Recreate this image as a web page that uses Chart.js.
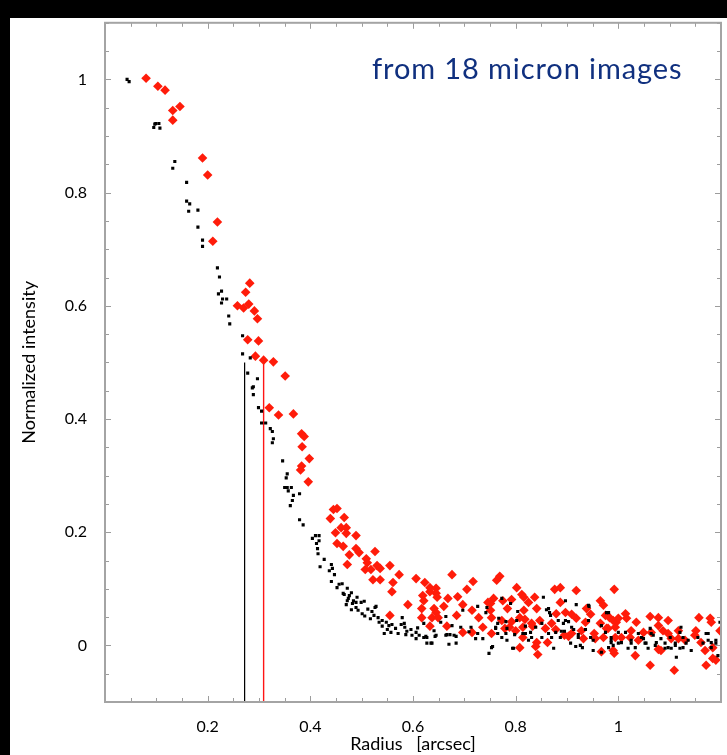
<!DOCTYPE html>
<html>
<head>
<meta charset="utf-8">
<title>Radial profile</title>
<script src="https://cdn.jsdelivr.net/npm/chart.js@4.4.1/dist/chart.umd.min.js"></script>
<style>
  html, body { margin: 0; padding: 0; background: #000; }
  #panel { position: absolute; left: 10px; top: 18px; width: 717px; height: 737px; background: #fff; }
  #note { position: absolute; left: 362px; top: 35px; font: 29px Lato, sans-serif; line-height: 29px; letter-spacing: 0.9px; color: #10307f; white-space: nowrap; }
</style>
</head>
<body>
<div id="panel">
  <canvas id="profile" width="717" height="737"></canvas>
  <div id="note">from 18 micron images</div>
</div>
<script>
// radial profile, [radius arcsec, normalized intensity]
const blackPoints = [
  [0.043, 1.0], [0.047, 0.996], [0.097, 0.921], [0.099, 0.922], [0.105, 0.922], [0.107, 0.914], [0.095, 0.915],
  [0.136, 0.855], [0.132, 0.843], [0.159, 0.818], [0.159, 0.785], [0.165, 0.780], [0.163, 0.767], [0.181, 0.769],
  [0.181, 0.739], [0.190, 0.716], [0.190, 0.705], [0.219, 0.667], [0.223, 0.651], [0.227, 0.626], [0.221, 0.621],
  [0.229, 0.612], [0.237, 0.612], [0.227, 0.605], [0.241, 0.582], [0.243, 0.568], [0.268, 0.547], [0.268, 0.515],
  [0.283, 0.508], [0.278, 0.481], [0.297, 0.471], [0.289, 0.457], [0.287, 0.455], [0.289, 0.443], [0.299, 0.420],
  [0.305, 0.414], [0.305, 0.393], [0.313, 0.393], [0.322, 0.383], [0.326, 0.378], [0.328, 0.365], [0.326, 0.358],
  [0.346, 0.326], [0.355, 0.303], [0.353, 0.296], [0.350, 0.279], [0.355, 0.279], [0.357, 0.273], [0.363, 0.279],
  [0.379, 0.268], [0.367, 0.265], [0.365, 0.256], [0.361, 0.247], [0.379, 0.222], [0.386, 0.213], [0.404, 0.189],
  [0.410, 0.194], [0.417, 0.194], [0.412, 0.180], [0.417, 0.185], [0.414, 0.171], [0.415, 0.162], [0.427, 0.152],
  [0.419, 0.139], [0.441, 0.143], [0.443, 0.136], [0.437, 0.132], [0.447, 0.125], [0.441, 0.113], [0.456, 0.108],
  [0.452, 0.102], [0.472, 0.101], [0.464, 0.092], [0.480, 0.093], [0.474, 0.083], [0.484, 0.079], [0.491, 0.085],
  [0.489, 0.076], [0.499, 0.076], [0.505, 0.078], [0.526, 0.067], [0.480, 0.063], [0.462, 0.109], [0.466, 0.090],
  [0.476, 0.088], [0.472, 0.079], [0.482, 0.074], [0.489, 0.067], [0.501, 0.056], [0.506, 0.052], [0.520, 0.060],
  [0.528, 0.069], [0.524, 0.053], [0.532, 0.049], [0.540, 0.044], [0.534, 0.041], [0.548, 0.041], [0.540, 0.034],
  [0.553, 0.035], [0.559, 0.037], [0.544, 0.021], [0.557, 0.023], [0.579, 0.049], [0.577, 0.037], [0.584, 0.032],
  [0.588, 0.025], [0.586, 0.019], [0.596, 0.028], [0.606, 0.023], [0.612, 0.018], [0.606, 0.012], [0.621, 0.014],
  [0.627, 0.004], [0.625, 0.016], [0.637, 0.004], [0.645, 0.018], [0.641, 0.026], [0.654, 0.041], [0.664, 0.051],
  [0.666, 0.019], [0.672, 0.019], [0.676, 0.035], [0.680, 0.018], [0.684, 0.004], [0.670, 0.002], [0.693, 0.032],
  [0.697, 0.062], [0.713, 0.032], [0.722, 0.012], [0.726, 0.021], [0.736, 0.012], [0.744, 0.067], [0.748, -0.014],
  [0.755, -0.002], [0.761, 0.032], [0.765, 0.039], [0.765, 0.021], [0.583, 0.039], [0.598, 0.018], [0.609, 0.031],
  [0.621, 0.039], [0.627, 0.014], [0.635, 0.004], [0.643, 0.016], [0.664, 0.018], [0.684, 0.016], [0.709, 0.024],
  [0.726, 0.069], [0.742, 0.058], [0.767, 0.048], [0.773, 0.083], [0.783, 0.030], [0.796, -0.005], [0.802, 0.044],
  [0.814, 0.021], [0.831, 0.014], [0.839, 0.032], [0.854, 0.085], [0.864, 0.065], [0.868, 0.053], [0.878, 0.023],
  [0.887, 0.014], [0.897, 0.044], [0.909, 0.032], [0.922, 0.014], [0.926, 0.0], [0.936, 0.028], [0.943, 0.069],
  [0.951, 0.009], [0.967, -0.012], [0.975, 0.023], [0.986, 0.014], [1.0, 0.004], [1.014, 0.023], [1.025, 0.009],
  [1.033, -0.004], [1.045, 0.014], [1.054, 0.004], [1.064, 0.021], [1.072, 0.0], [1.083, 0.012], [1.091, -0.005],
  [1.101, 0.014], [1.111, 0.004], [1.120, 0.023], [1.126, -0.004], [1.136, 0.009], [1.142, -0.009], [1.155, 0.014],
  [1.165, 0.004], [1.175, 0.021], [1.181, -0.004], [1.190, 0.009], [1.198, 0.041], [0.860, 0.063], [0.866, 0.058],
  [0.918, 0.072], [0.942, 0.071], [0.897, 0.079], [0.977, 0.058], [0.790, 0.074], [0.804, 0.060], [0.761, 0.030],
  [0.773, 0.014], [0.781, 0.021], [0.798, 0.019], [0.783, 0.009], [0.819, 0.021], [0.829, 0.023], [0.851, 0.014],
  [0.864, 0.021], [0.870, 0.014], [0.883, 0.044], [0.893, 0.039], [0.889, 0.025], [0.895, 0.025], [0.913, 0.028],
  [0.922, 0.019], [0.907, 0.004], [0.917, -0.002], [0.930, -0.004], [0.946, 0.014], [0.951, -0.009], [0.753, -0.004],
  [0.794, -0.005], [0.825, 0.009], [0.874, -0.005], [0.903, 0.042], [0.942, 0.044], [0.986, 0.005], [0.990, 0.0],
  [0.981, -0.004], [0.781, 0.042], [0.819, 0.034], [0.851, 0.039], [0.967, 0.035], [0.981, 0.058], [1.0, 0.023],
  [0.986, 0.009], [1.006, 0.005], [1.019, -0.005], [1.039, 0.021], [1.049, 0.012], [1.058, -0.005], [1.068, 0.018],
  [1.091, 0.004], [1.097, -0.004], [1.111, 0.0], [1.120, -0.005], [1.126, 0.014], [1.132, 0.004], [1.171, 0.021],
  [1.175, 0.009], [1.181, 0.005], [1.122, 0.032], [1.062, 0.030], [1.025, 0.004], [1.113, -0.021], [1.190, 0.004],
  [1.194, -0.018], [1.052, 0.004], [1.074, 0.005], [1.103, -0.005], [0.470, 0.072], [0.493, 0.062], [0.512, 0.064],
  [0.517, 0.047], [0.550, 0.028], [0.566, 0.030], [0.571, 0.021]
];

const redPoints = [
  [0.080, 1.002], [0.103, 0.988], [0.117, 0.981], [0.132, 0.945], [0.146, 0.952], [0.132, 0.928], [0.190, 0.861],
  [0.200, 0.831], [0.219, 0.748], [0.210, 0.714], [0.282, 0.640], [0.274, 0.624], [0.258, 0.600], [0.270, 0.596],
  [0.280, 0.603], [0.291, 0.591], [0.297, 0.577], [0.278, 0.540], [0.299, 0.538], [0.293, 0.511], [0.309, 0.504],
  [0.328, 0.501], [0.351, 0.476], [0.320, 0.420], [0.338, 0.407], [0.367, 0.409], [0.383, 0.374], [0.388, 0.369],
  [0.384, 0.351], [0.398, 0.330], [0.383, 0.317], [0.381, 0.310], [0.396, 0.289], [0.445, 0.240], [0.452, 0.242],
  [0.439, 0.224], [0.466, 0.226], [0.460, 0.208], [0.470, 0.208], [0.449, 0.199], [0.470, 0.198], [0.489, 0.194],
  [0.452, 0.180], [0.464, 0.175], [0.489, 0.171], [0.495, 0.164], [0.476, 0.160], [0.526, 0.166], [0.509, 0.153],
  [0.511, 0.146], [0.472, 0.143], [0.530, 0.141], [0.507, 0.134], [0.518, 0.134], [0.536, 0.136], [0.555, 0.141],
  [0.573, 0.125], [0.522, 0.116], [0.536, 0.116], [0.561, 0.111], [0.559, 0.095], [0.606, 0.118], [0.623, 0.111],
  [0.619, 0.088], [0.621, 0.079], [0.590, 0.072], [0.676, 0.125], [0.717, 0.113], [0.633, 0.102], [0.645, 0.101],
  [0.645, 0.092], [0.633, 0.095], [0.647, 0.085], [0.668, 0.083], [0.687, 0.086], [0.705, 0.099], [0.660, 0.069],
  [0.697, 0.072], [0.641, 0.065], [0.617, 0.065], [0.645, 0.058], [0.637, 0.049], [0.617, 0.049], [0.649, 0.049],
  [0.685, 0.053], [0.715, 0.062], [0.555, 0.053], [0.728, 0.049], [0.633, 0.034], [0.666, 0.034], [0.715, 0.023],
  [0.697, 0.023], [0.736, 0.032], [0.746, 0.076], [0.757, 0.083], [0.751, 0.062], [0.753, 0.021], [0.763, 0.115],
  [0.769, 0.122], [0.802, 0.102], [0.812, 0.090], [0.816, 0.085], [0.837, 0.085], [0.825, 0.076], [0.876, 0.099],
  [0.887, 0.102], [0.918, 0.097], [0.992, 0.099], [0.775, 0.079], [0.751, 0.074], [0.792, 0.081], [0.784, 0.065],
  [0.816, 0.062], [0.841, 0.065], [0.887, 0.076], [0.897, 0.058], [0.879, 0.056], [0.909, 0.055], [0.938, 0.065],
  [0.965, 0.079], [0.971, 0.071], [0.946, 0.055], [0.983, 0.049], [0.996, 0.041], [0.753, 0.049], [0.773, 0.044],
  [0.792, 0.042], [0.808, 0.049], [0.818, 0.046], [0.831, 0.039], [0.847, 0.044], [0.833, 0.034], [0.870, 0.039],
  [0.918, 0.048], [0.936, 0.041], [0.779, 0.030], [0.800, 0.026], [0.814, 0.032], [0.858, 0.030], [0.788, 0.032],
  [0.878, 0.028], [0.895, 0.018], [0.903, 0.016], [0.909, 0.021], [0.928, 0.026], [0.932, 0.012], [0.953, 0.021],
  [0.971, 0.014], [0.977, 0.030], [0.994, 0.032], [0.814, 0.014], [0.841, 0.005], [0.839, -0.002], [0.862, 0.005],
  [0.808, -0.004], [0.843, -0.016], [0.967, -0.011], [0.992, -0.014], [0.955, 0.012], [0.975, 0.053], [0.965, 0.039],
  [0.990, 0.044], [1.000, 0.048], [1.014, 0.056], [1.016, 0.048], [1.035, 0.041], [1.062, 0.051], [1.078, 0.049],
  [1.097, 0.044], [1.078, 0.035], [1.117, 0.026], [1.151, 0.026], [1.157, 0.049], [1.179, 0.048], [1.181, 0.041],
  [0.980, 0.030], [0.994, 0.014], [1.006, 0.014], [1.023, 0.014], [1.025, 0.026], [1.039, 0.009], [1.049, 0.023],
  [1.064, 0.023], [1.087, 0.026], [1.097, 0.021], [1.103, 0.012], [0.990, -0.009], [1.033, -0.018], [1.062, -0.035],
  [1.078, -0.007], [1.083, -0.009], [1.109, -0.044], [1.149, 0.018], [1.161, 0.005], [1.169, -0.009], [1.184, -0.004],
  [1.184, -0.023], [1.190, -0.026], [1.171, -0.035], [1.198, 0.026], [1.130, 0.009], [1.117, 0.012]
];

// half-maximum radius markers: [radius, height]
const halfMaxBlack = [0.272, 0.5];
const halfMaxRed = [0.309, 0.505];

const xRange = [0, 1.2];
const yRange = [-0.1, 1.1];
const xLabels = [0.2, 0.4, 0.6, 0.8, 1];
const yLabels = [0, 0.2, 0.4, 0.6, 0.8, 1];

const toXY = p => ({ x: p[0], y: p[1] });
const marker = m => [{ x: m[0], y: m[1] }, { x: m[0], y: yRange[0] }];
const round2 = v => Math.round(v * 100) / 100;
const isLabelled = (list, v) => list.some(t => Math.abs(t - v) < 1e-6);
const isMajor = v => Math.abs(v * 5 - Math.round(v * 5)) < 1e-6;

const tickFont = { family: 'Lato, sans-serif', size: 16 };
const titleFont = { family: 'Lato, sans-serif', size: 18 };

// gray box round the plot with inward ticks on all four sides
const frameTicks = {
  id: 'frameTicks',
  afterDatasetsDraw(chart) {
    const { ctx, chartArea: a, scales: { x, y } } = chart;
    ctx.save();
    ctx.strokeStyle = '#9c9c9c';
    ctx.lineWidth = 1;
    ctx.beginPath();
    x.ticks.forEach(t => {
      const px = Math.round(x.getPixelForValue(t.value)) + 0.5;
      const len = isMajor(t.value) ? 6 : 4;
      ctx.moveTo(px, a.bottom); ctx.lineTo(px, a.bottom - len);
      ctx.moveTo(px, a.top); ctx.lineTo(px, a.top + len);
    });
    y.ticks.forEach(t => {
      const py = Math.round(y.getPixelForValue(t.value)) + 0.5;
      const len = isMajor(t.value) ? 6 : 4;
      ctx.moveTo(a.left, py); ctx.lineTo(a.left + len, py);
      ctx.moveTo(a.right, py); ctx.lineTo(a.right - len, py);
    });
    ctx.stroke();
    ctx.lineWidth = 2;
    ctx.strokeStyle = '#a4a4a4';
    ctx.strokeRect(a.left, a.top, a.right - a.left, a.bottom - a.top);
    ctx.restore();
  }
};

new Chart(document.getElementById('profile'), {
  type: 'scatter',
  data: {
    datasets: [
      {
        label: 'black',
        data: blackPoints.map(toXY),
        pointStyle: 'rect',
        pointRadius: 2.2,
        pointBorderWidth: 0,
        backgroundColor: '#000',
        borderColor: '#000'
      },
      {
        label: 'red',
        data: redPoints.map(toXY),
        pointStyle: 'rectRot',
        pointRadius: 4.8,
        pointBorderWidth: 0,
        backgroundColor: 'rgb(255, 28, 10)',
        borderColor: 'rgb(255, 28, 10)'
      },
      {
        label: 'hm black',
        data: marker(halfMaxBlack),
        showLine: true,
        pointRadius: 0,
        borderWidth: 1.2,
        borderColor: '#000'
      },
      {
        label: 'hm red',
        data: marker(halfMaxRed),
        showLine: true,
        pointRadius: 0,
        borderWidth: 1.4,
        borderColor: 'rgb(255, 20, 20)'
      }
    ]
  },
  options: {
    responsive: false,
    animation: false,
    devicePixelRatio: 1,
    layout: { padding: { top: 4, right: 6, left: 0, bottom: 0 } },
    plugins: {
      legend: { display: false },
      tooltip: { enabled: false }
    },
    scales: {
      x: {
        type: 'linear',
        min: xRange[0],
        max: xRange[1],
        afterFit: s => { s.height = 53; s.paddingLeft = 0; s.paddingRight = 0; },
        grid: { display: false },
        border: { display: false },
        ticks: {
          stepSize: 0.05,
          autoSkip: false,
          maxRotation: 0,
          padding: 7,
          color: '#000',
          font: tickFont,
          callback: v => isLabelled(xLabels, round2(v)) ? String(round2(v)) : ''
        },
        title: {
          display: true,
          text: 'Radius   [arcsec]',
          color: '#000',
          font: titleFont,
          padding: { top: 0, bottom: 0 }
        }
      },
      y: {
        type: 'linear',
        min: yRange[0],
        max: yRange[1],
        afterFit: s => { s.width = 95; s.paddingTop = 0; s.paddingBottom = 0; },
        grid: { display: false },
        border: { display: false },
        ticks: {
          stepSize: 0.05,
          autoSkip: false,
          padding: 10,
          color: '#000',
          font: tickFont,
          callback: v => isLabelled(yLabels, round2(v)) ? String(round2(v)) : ''
        },
        title: {
          display: true,
          text: 'Normalized intensity',
          color: '#000',
          font: titleFont,
          padding: { top: 8, bottom: 0 }
        }
      }
    }
  },
  plugins: [frameTicks]
});
</script>
</body>
</html>
